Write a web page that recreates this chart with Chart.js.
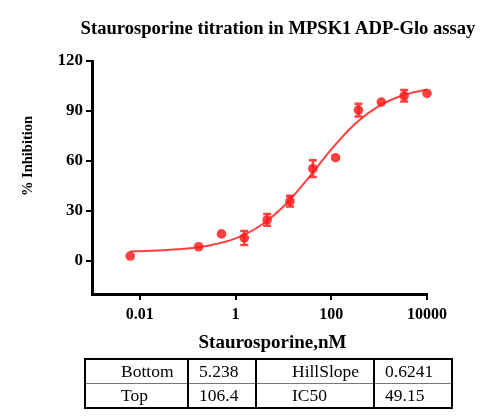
<!DOCTYPE html>
<html>
<head>
<meta charset="utf-8">
<script src="https://cdn.jsdelivr.net/npm/chart.js@4.4.1/dist/chart.umd.min.js"></script>
<style>
    body { margin: 0; background: #ffffff; }
    #wrap { position: relative; width: 500px; height: 420px; }
    #title {
        position: absolute; left: 68px; top: 17px; width: 420px;
        text-align: center; font: bold 18.6px "Liberation Serif", serif; color: #000;
    }
    #params {
        position: absolute; left: 84px; top: 358px;
        border-collapse: collapse; table-layout: fixed;
        font: 17.5px "Liberation Serif", serif; color: #000;
        border: 2px solid #000;
    }
    #params td { height: 23px; padding: 0; border-left: 2px solid #000; border-right: 2px solid #000; line-height: 23px; }
    #params tr + tr td { border-top: 1px solid #777; }
    #params td.lab { padding-left: 35px; }
    #params td.val { padding-left: 10px; }
</style>
</head>
<body>
<div id="wrap">
    <div id="title">Staurosporine titration in MPSK1 ADP-Glo assay</div>
    <canvas id="chart" width="500" height="420"></canvas>
    <table id="params">
        <colgroup><col style="width:103px"><col style="width:68px"><col style="width:118px"><col style="width:78px"></colgroup>
        <tr><td class="lab">Bottom</td><td class="val">5.238</td><td class="lab">HillSlope</td><td class="val">0.6241</td></tr>
        <tr><td class="lab">Top</td><td class="val">106.4</td><td class="lab">IC50</td><td class="val">49.15</td></tr>
    </table>
</div>
<script>
// measured points (nM, % inhibition, error)
const conc = [0.00627, 0.169, 0.508, 1.52, 4.57, 13.7, 41.2, 123, 370, 1111, 3333, 10000];
const inhibition = [2.8, 8.4, 16.1, 13.7, 24.5, 35.8, 55.3, 61.9, 90.5, 95.3, 99.1, 100.5];
const errors = [0, 0, 0, 4.2, 3.5, 3.2, 5.0, 0, 3.8, 0, 3.5, 0];

// fitted curve
const fitConc = [0.00627, 0.01, 0.0316, 0.1, 0.316, 1, 3.16, 10, 31.6, 100, 316, 1000, 3162, 10000];
const fitVals = [5.6, 5.7, 6.3, 7.3, 9.4, 13.4, 20.7, 32.6, 48.9, 66.9, 82.3, 93.0, 99.4, 102.9];

const xTicks = [0.01, 1, 100, 10000];
const yTicks = [0, 30, 60, 90, 120];

const red = 'rgba(255, 30, 30, 0.85)';
const serif = '"Liberation Serif", serif';

const errorBars = {
    id: 'errorBars',
    afterDatasetsDraw(chart) {
        const ctx = chart.ctx;
        const xs = chart.scales.x, ys = chart.scales.y;
        ctx.save();
        ctx.strokeStyle = red;
        ctx.lineWidth = 2.5;
        errors.forEach((e, i) => {
            if (!e) return;
            const px = xs.getPixelForValue(conc[i]);
            const top = ys.getPixelForValue(inhibition[i] + e);
            const bot = ys.getPixelForValue(inhibition[i] - e);
            ctx.beginPath();
            ctx.moveTo(px, top); ctx.lineTo(px, bot);
            ctx.moveTo(px - 4, top); ctx.lineTo(px + 4, top);
            ctx.moveTo(px - 4, bot); ctx.lineTo(px + 4, bot);
            ctx.stroke();
        });
        ctx.restore();
    }
};

const axisTitles = {
    id: 'axisTitles',
    afterDraw(chart) {
        const ctx = chart.ctx;
        const a = chart.chartArea;
        ctx.save();
        ctx.fillStyle = '#000';
        ctx.textAlign = 'center';
        ctx.textBaseline = 'middle';
        ctx.font = 'bold 19px ' + serif;
        ctx.fillText('Staurosporine,nM', (a.left + a.right) / 2 + 13, a.bottom + 49);
        ctx.translate(28, a.top + 95);
        ctx.rotate(-Math.PI / 2);
        ctx.font = 'bold 14.5px ' + serif;
        ctx.fillText('% Inhibition', 0, 0);
        ctx.restore();
    }
};

document.addEventListener("DOMContentLoaded", () => {
    new Chart(document.getElementById('chart'), {
        type: 'scatter',
        data: {
            datasets: [{
                label: 'Staurosporine',
                data: conc.map((c, i) => ({ x: c, y: inhibition[i] })),
                backgroundColor: red,
                borderColor: red,
                pointRadius: 4.8,
                pointBorderWidth: 0,
                clip: false,
                order: 0
            }, {
                label: 'Fit',
                type: 'line',
                data: fitConc.map((c, i) => ({ x: c, y: fitVals[i] })),
                borderColor: red,
                borderWidth: 2,
                pointRadius: 0,
                cubicInterpolationMode: 'monotone',
                fill: false,
                clip: false,
                order: 1
            }]
        },
        options: {
            responsive: false,
            animation: false,
            layout: { padding: { left: 0, right: 73, top: 61, bottom: 96 } },
            plugins: {
                legend: { display: false },
                tooltip: { enabled: false }
            },
            scales: {
                x: {
                    type: 'logarithmic',
                    min: 0.001,
                    max: 10000,
                    afterBuildTicks: s => { s.ticks = xTicks.map(v => ({ value: v })); },
                    afterFit: s => { s.height = 30; },
                    border: { display: true, color: '#000', width: 3 },
                    grid: { drawOnChartArea: false, drawTicks: true, tickLength: 6, color: '#000', lineWidth: 2 },
                    ticks: {
                        color: '#000', padding: 5, maxRotation: 0,
                        font: { family: serif, size: 16, weight: 'bold' },
                        callback: v => String(v)
                    }
                },
                y: {
                    min: -20,
                    max: 120,
                    afterBuildTicks: s => { s.ticks = yTicks.map(v => ({ value: v })); },
                    afterFit: s => { s.width = 92; },
                    border: { display: true, color: '#000', width: 3 },
                    grid: { drawOnChartArea: false, drawTicks: true, tickLength: 6, color: '#000', lineWidth: 2 },
                    ticks: {
                        color: '#000', padding: 3,
                        font: { family: serif, size: 17, weight: 'bold' }
                    }
                }
            }
        },
        plugins: [errorBars, axisTitles]
    });
});
</script>
</body>
</html>
